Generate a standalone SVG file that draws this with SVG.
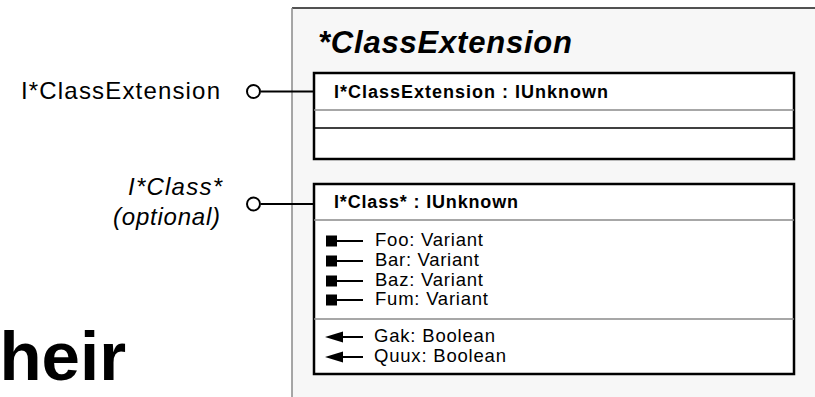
<svg xmlns="http://www.w3.org/2000/svg" xmlns:xlink="http://www.w3.org/1999/xlink" width="815" height="397" viewBox="0 0 815 397">
  <style>
    text { font-family: "Liberation Sans", Arial, Helvetica, sans-serif; fill: #000; }
    .title { font-size: 31px; font-weight: bold; font-style: italic; }
    .label { font-size: 24px; }
    .ital { font-style: italic; }
    .head { font-size: 18px; font-weight: bold; }
    .item { font-size: 18.5px; }
    .big { font-size: 69px; font-weight: bold; }
    .box { fill: #fff; stroke: #000; stroke-width: 2.5; }
    .div-gray { stroke: #8a8a8a; stroke-width: 1.5; }
    .div-black { stroke: #000; stroke-width: 1.5; }
    .wire { stroke: #000; stroke-width: 2; fill: none; }
    .lollipop { fill: #fff; stroke: #000; stroke-width: 2; }
  </style>
  <defs>
    <!-- property with read/write access: square end -->
    <g id="prop-rw">
      <rect x="0" y="-5.5" width="11" height="11" fill="#000"/>
      <line x1="11" y1="0" x2="37" y2="0" stroke="#000" stroke-width="2"/>
    </g>
    <!-- read-only property: arrowhead end -->
    <g id="prop-ro">
      <polygon points="0,0 18,-5.5 18,5.5" fill="#000"/>
      <line x1="17" y1="0" x2="38" y2="0" stroke="#000" stroke-width="2"/>
    </g>
  </defs>

  <rect width="815" height="397" fill="#fff"/>

  <!-- component container -->
  <g id="class-extension">
    <rect x="292" y="8" width="530" height="400" fill="#f7f7f7"/>
    <line x1="292" y1="8" x2="815" y2="8" stroke="#1a1a1a" stroke-width="1.5"/>
    <line x1="292" y1="8" x2="292" y2="397" stroke="#8a8a8a" stroke-width="1.5"/>
    <text class="title" x="318" y="53" textLength="254" lengthAdjust="spacing">*ClassExtension</text>
  </g>

  <!-- I*ClassExtension interface -->
  <g id="iface-extension">
    <rect class="box" x="314" y="73" width="480" height="86"/>
    <line class="div-gray" x1="314" y1="110" x2="794" y2="110"/>
    <line class="div-black" x1="314" y1="128" x2="794" y2="128"/>
    <text class="head" x="334" y="98" textLength="274" lengthAdjust="spacing">I*ClassExtension : IUnknown</text>
  </g>

  <!-- I*Class* interface -->
  <g id="iface-class">
    <rect class="box" x="314" y="184" width="480" height="190"/>
    <line class="div-gray" x1="314" y1="220" x2="794" y2="220"/>
    <line class="div-gray" x1="314" y1="319" x2="794" y2="319"/>
    <text class="head" x="334" y="208" textLength="184" lengthAdjust="spacing">I*Class* : IUnknown</text>
    <use xlink:href="#prop-rw" x="326" y="241"/>
    <use xlink:href="#prop-rw" x="326" y="261"/>
    <use xlink:href="#prop-rw" x="326" y="281"/>
    <use xlink:href="#prop-rw" x="326" y="300"/>
    <text class="item" x="375" y="246" textLength="108" lengthAdjust="spacing">Foo: Variant</text>
    <text class="item" x="375" y="266" textLength="104" lengthAdjust="spacing">Bar: Variant</text>
    <text class="item" x="375" y="286" textLength="108" lengthAdjust="spacing">Baz: Variant</text>
    <text class="item" x="375" y="305" textLength="113" lengthAdjust="spacing">Fum: Variant</text>
    <use xlink:href="#prop-ro" x="325" y="337"/>
    <use xlink:href="#prop-ro" x="325" y="357"/>
    <text class="item" x="374" y="342" textLength="121" lengthAdjust="spacing">Gak: Boolean</text>
    <text class="item" x="374" y="362" textLength="132" lengthAdjust="spacing">Quux: Boolean</text>
  </g>

  <!-- interface labels -->
  <g id="label-extension">
    <text class="label" x="21" y="99" textLength="199" lengthAdjust="spacing">I*ClassExtension</text>
  </g>
  <g id="label-class">
    <text class="label ital" x="128" y="195" textLength="94" lengthAdjust="spacing">I*Class*</text>
    <text class="label ital" x="113" y="225" textLength="107" lengthAdjust="spacing">(optional)</text>
  </g>

  <!-- lollipop connectors -->
  <g id="connectors">
    <line class="wire" x1="261" y1="91.5" x2="314" y2="91.5"/>
    <circle class="lollipop" cx="253.5" cy="91.5" r="6.5"/>
    <line class="wire" x1="261" y1="204" x2="314" y2="204"/>
    <circle class="lollipop" cx="253.5" cy="204" r="6.5"/>
  </g>

  <text class="big" x="126" y="380" text-anchor="end">heir</text>
</svg>
